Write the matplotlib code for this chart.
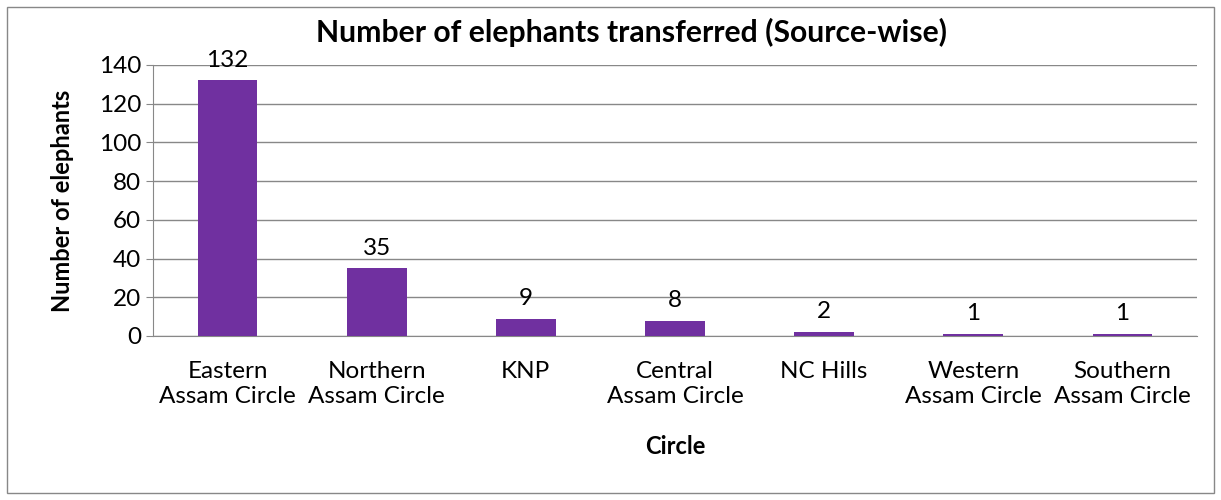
import matplotlib.pyplot as plt
from matplotlib.patches import Rectangle

plt.rcParams['font.family'] = ['Lato', 'DejaVu Sans']

# data
circles = ["Eastern\nAssam Circle", "Northern\nAssam Circle", "KNP",
           "Central\nAssam Circle", "NC Hills", "Western\nAssam Circle",
           "Southern\nAssam Circle"]
counts = [132, 35, 9, 8, 2, 1, 1]
yticks = [0, 20, 40, 60, 80, 100, 120, 140]

fig = plt.figure(figsize=(12.21, 5), dpi=100)
# outer chart frame
fig.patches.append(Rectangle((7/1221, 7/500), 1207/1221, 486/500,
                             transform=fig.transFigure, fill=False,
                             edgecolor='#888888', lw=1))

ax = fig.add_axes([153/1221, 164/500, 1044/1221, 271/500])
x = range(len(circles))
bars = ax.bar(x, counts, width=0.4, color='#7030A0', zorder=3)
for xi, v in zip(x, counts):
    ax.text(xi, v + 5, str(v), ha='center', va='bottom', fontsize=17.5)

ax.set_xlim(-0.5, len(circles) - 0.5)
ax.set_ylim(0, 140)
ax.set_yticks(yticks)
ax.set_xticks(list(x))
ax.set_xticklabels(circles, fontsize=17.5, linespacing=1.25)
ax.tick_params(axis='y', labelsize=17.5, length=5, color='#888888', direction='out')
ax.tick_params(axis='x', length=0, pad=18)
ax.grid(axis='y', color='#888888', lw=1, zorder=0)
for s in ['top', 'right']:
    ax.spines[s].set_visible(False)
ax.spines['left'].set_color('#888888')
ax.spines['bottom'].set_color('#888888')

fig.text(631/1221, 1 - 32/500, "Number of elephants transferred (Source-wise)",
         fontsize=21.7, fontweight='bold', ha='center', va='center')
ax.set_xlabel("Circle", fontsize=17, fontweight='bold', labelpad=20)
ax.set_ylabel("Number of elephants", fontsize=17, fontweight='bold', labelpad=18)

fig.savefig("out.png", dpi=100)
